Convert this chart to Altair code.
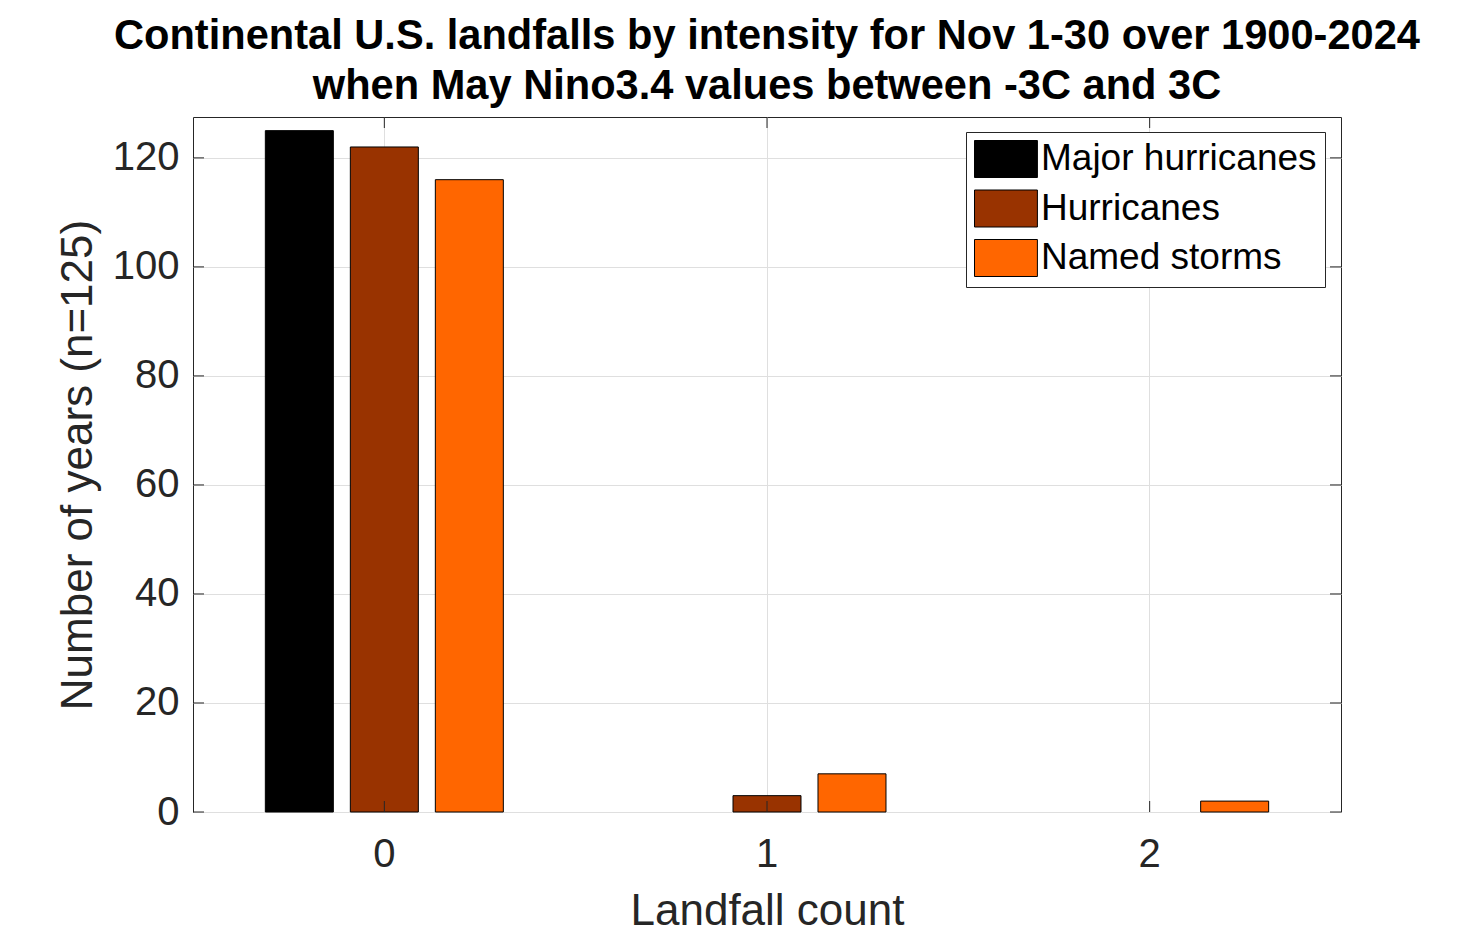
import altair as alt
import pandas as pd

counts = ["0", "1", "2"]
series = ["Major hurricanes", "Hurricanes", "Named storms"]
major = [125, 0, 0]
hurricanes = [122, 3, 0]
named = [116, 7, 2]
colors = ["#000000", "#993300", "#FF6600"]
y_ticks = [0, 20, 40, 60, 80, 100, 120]

rows = []
for s, vals in zip(series, [major, hurricanes, named]):
    for c, v in zip(counts, vals):
        if v > 0:
            rows.append({"count": c, "series": s, "years": v})
df = pd.DataFrame(rows)
ytick_df = pd.DataFrame({"years": y_ticks})
xtick_df = pd.DataFrame({"count": counts})

W, H = 1148, 695
FONT = "Liberation Sans"
AX = "#262626"
GRID = "#dfdfdf"

x_scale = alt.Scale(domain=counts, paddingInner=0, paddingOuter=0)
y_scale = alt.Scale(domain=[0, 127.5], nice=False, zero=True)

x_axis = alt.Axis(title="Landfall count", labelAngle=0, grid=True, gridColor=GRID,
                  bandPosition=0.5, ticks=False, domain=False,
                  labelFontSize=40, labelFont=FONT, labelColor=AX, labelPadding=22,
                  titleFontSize=44, titleFont=FONT, titleFontWeight="normal",
                  titleColor=AX, titlePadding=15)
y_axis = alt.Axis(title="Number of years (n=125)", values=y_ticks, grid=True,
                  gridColor=GRID, ticks=False, domain=False,
                  labelFontSize=40, labelFont=FONT, labelColor=AX, labelPadding=14,
                  titleFontSize=44, titleFont=FONT, titleFontWeight="normal",
                  titleColor=AX, titlePadding=12)

bars = alt.Chart(df).mark_bar(stroke="black", strokeWidth=1, opacity=1).encode(
    x=alt.X("count:N", scale=x_scale, sort=counts, axis=x_axis),
    xOffset=alt.XOffset("series:N", sort=series,
                        scale=alt.Scale(domain=series, paddingInner=0.2, paddingOuter=0.851)),
    y=alt.Y("years:Q", scale=y_scale, axis=y_axis),
    color=alt.Color("series:N", sort=series,
                    scale=alt.Scale(domain=series, range=colors),
                    legend=alt.Legend(title=None, orient="none", legendX=773, legendY=15,
                                      direction="vertical", strokeColor=AX, fillColor="white",
                                      padding=8, cornerRadius=0,
                                      symbolType="M-1,-1H2.4V1H-1Z", symbolSize=1369,
                                      symbolStrokeColor="black", symbolStrokeWidth=1,
                                      symbolOpacity=1, labelFontSize=37, labelFont=FONT,
                                      labelColor="black", labelOffset=29, rowPadding=7.5,
                                      labelLimit=0)),
)

ytick_left = alt.Chart(ytick_df).mark_rule(color=AX, strokeWidth=1).encode(
    y=alt.Y("years:Q", scale=y_scale, axis=y_axis),
    x=alt.value(0), x2=alt.value(11))
ytick_right = alt.Chart(ytick_df).mark_rule(color=AX, strokeWidth=1).encode(
    y=alt.Y("years:Q", scale=y_scale, axis=y_axis),
    x=alt.value(W - 11), x2=alt.value(W))
xtick_bottom = alt.Chart(xtick_df).mark_rule(color=AX, strokeWidth=1).encode(
    x=alt.X("count:N", scale=x_scale, sort=counts, bandPosition=0.5, axis=x_axis),
    y=alt.value(H), y2=alt.value(H - 11))
xtick_top = alt.Chart(xtick_df).mark_rule(color=AX, strokeWidth=1).encode(
    x=alt.X("count:N", scale=x_scale, sort=counts, bandPosition=0.5, axis=x_axis),
    y=alt.value(0), y2=alt.value(11))

chart = alt.layer(bars, ytick_left, ytick_right, xtick_bottom, xtick_top).properties(
    width=W, height=H,
    title=alt.TitleParams(
        text=["Continental U.S. landfalls by intensity for Nov 1-30 over 1900-2024",
              "when May Nino3.4 values between -3C and 3C"],
        font=FONT, fontSize=41.6, fontWeight="bold", color="black",
        anchor="middle", lineHeight=50, offset=9),
    autosize=alt.AutoSizeParams(type="none"),
    padding={"left": 185, "top": 109, "right": 120, "bottom": 125},
).configure_view(stroke=AX, strokeWidth=1)

chart.save("out.html", embed_options={"renderer": "svg", "actions": False})
